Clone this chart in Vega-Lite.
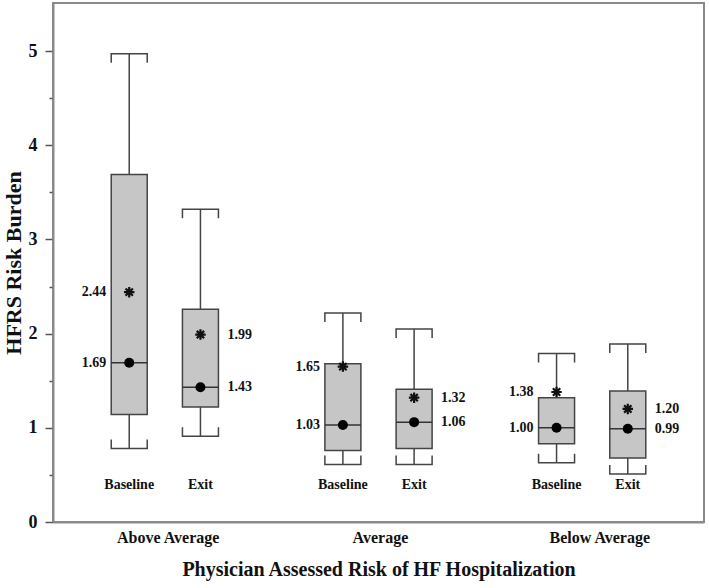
{
  "$schema": "https://vega.github.io/schema/vega-lite/v6.json",
  "width": 651,
  "height": 519,
  "autosize": {"type": "none"},
  "padding": {"left": 53, "top": 3, "right": 5, "bottom": 66},
  "background": "white",
  "config": {
    "font": "Liberation Serif",
    "view": {"stroke": "#8a8a8a", "strokeWidth": 2},
    "axis": {
      "domainColor": "#8a8a8a",
      "domainWidth": 2,
      "tickColor": "#555555",
      "tickWidth": 1.5,
      "labelFont": "Liberation Serif",
      "titleFont": "Liberation Serif",
      "labelFontWeight": "bold",
      "titleFontWeight": "bold",
      "labelColor": "#111111",
      "titleColor": "#111111",
      "grid": false
    }
  },
  "data": {
    "values": [
      {"group": "Above Average", "phase": "Baseline", "x": 1, "lo": 0.78, "q1": 1.14, "median": 1.69, "q3": 3.69, "hi": 4.97, "mean": 2.44},
      {"group": "Above Average", "phase": "Exit", "x": 2, "lo": 0.91, "q1": 1.22, "median": 1.43, "q3": 2.26, "hi": 3.32, "mean": 1.99},
      {"group": "Average", "phase": "Baseline", "x": 4, "lo": 0.61, "q1": 0.76, "median": 1.03, "q3": 1.68, "hi": 2.22, "mean": 1.65},
      {"group": "Average", "phase": "Exit", "x": 5, "lo": 0.61, "q1": 0.78, "median": 1.06, "q3": 1.41, "hi": 2.05, "mean": 1.32},
      {"group": "Below Average", "phase": "Baseline", "x": 7, "lo": 0.63, "q1": 0.83, "median": 1.00, "q3": 1.32, "hi": 1.79, "mean": 1.38},
      {"group": "Below Average", "phase": "Exit", "x": 8, "lo": 0.51, "q1": 0.68, "median": 0.99, "q3": 1.39, "hi": 1.89, "mean": 1.20}
    ]
  },
  "encoding": {
    "x": {
      "field": "x",
      "type": "quantitative",
      "scale": {"domain": [0, 9], "nice": false, "zero": false},
      "axis": {
        "values": [1.54, 4.52, 7.6],
        "labelExpr": "datum.value < 3 ? 'Above Average' : (datum.value < 6 ? 'Average' : 'Below Average')",
        "ticks": false,
        "labelPadding": 7,
        "labelFontSize": 16,
        "labelFlush": false,
        "title": "Physician Assessed Risk of HF Hospitalization",
        "titleFontSize": 20,
        "titlePadding": 14
      }
    }
  },
  "layer": [
    {
      "mark": {"type": "rule", "color": "#444444", "strokeWidth": 1.5},
      "encoding": {
        "y": {
          "field": "lo",
          "type": "quantitative",
          "scale": {"domain": [0, 5.51], "nice": false},
          "axis": {
            "values": [0, 0.5, 1, 1.5, 2, 2.5, 3, 3.5, 4, 4.5, 5],
            "format": ".0f",
            "labelExpr": "datum.value % 1 === 0 ? datum.label : ''",
            "tickSize": {"condition": {"test": "datum.value % 1 === 0", "value": 8}, "value": 4},
            "labelPadding": 8,
            "labelFontSize": 18,
            "title": "HFRS Risk Burden",
            "titleFontSize": 22,
            "titlePadding": 3
          }
        },
        "y2": {"field": "hi"}
      }
    },
    {
      "mark": {"type": "bar", "width": 36, "fill": "#c6c6c6", "stroke": "#444444", "strokeWidth": 1.5},
      "encoding": {
        "y": {"field": "q1", "type": "quantitative"},
        "y2": {"field": "q3"}
      }
    },
    {
      "mark": {"type": "point", "shape": "M-1,0L1,0", "size": 1296, "filled": false, "stroke": "#333333", "strokeWidth": 1.5, "opacity": 1},
      "encoding": {"y": {"field": "median", "type": "quantitative"}}
    },
    {
      "mark": {"type": "point", "shape": "M-1,0.5L-1,0L1,0L1,0.5", "size": 1296, "filled": false, "stroke": "#444444", "strokeWidth": 1.5, "opacity": 1},
      "encoding": {"y": {"field": "hi", "type": "quantitative"}}
    },
    {
      "mark": {"type": "point", "shape": "M-1,-0.5L-1,0L1,0L1,-0.5", "size": 1296, "filled": false, "stroke": "#444444", "strokeWidth": 1.5, "opacity": 1},
      "encoding": {"y": {"field": "lo", "type": "quantitative"}}
    },
    {
      "mark": {"type": "point", "shape": "circle", "size": 100, "filled": true, "fill": "#000000", "opacity": 1},
      "encoding": {"y": {"field": "median", "type": "quantitative"}}
    },
    {
      "mark": {"type": "point", "shape": "M-1,0L1,0M0,-1L0,1M-0.7,-0.7L0.7,0.7M-0.7,0.7L0.7,-0.7", "size": 110, "filled": false, "stroke": "#111111", "strokeWidth": 2.2, "opacity": 1},
      "encoding": {"y": {"field": "mean", "type": "quantitative"}}
    },
    {
      "transform": [{"filter": "datum.phase === 'Baseline'"}],
      "mark": {"type": "text", "align": "right", "baseline": "middle", "dx": -23, "fontSize": 14, "fontWeight": "bold", "color": "#111111"},
      "encoding": {"y": {"field": "mean", "type": "quantitative"}, "text": {"field": "mean", "type": "quantitative", "format": ".2f"}}
    },
    {
      "transform": [{"filter": "datum.phase === 'Baseline'"}],
      "mark": {"type": "text", "align": "right", "baseline": "middle", "dx": -23, "fontSize": 14, "fontWeight": "bold", "color": "#111111"},
      "encoding": {"y": {"field": "median", "type": "quantitative"}, "text": {"field": "median", "type": "quantitative", "format": ".2f"}}
    },
    {
      "transform": [{"filter": "datum.phase === 'Exit'"}],
      "mark": {"type": "text", "align": "left", "baseline": "middle", "dx": 27, "fontSize": 14, "fontWeight": "bold", "color": "#111111"},
      "encoding": {"y": {"field": "mean", "type": "quantitative"}, "text": {"field": "mean", "type": "quantitative", "format": ".2f"}}
    },
    {
      "transform": [{"filter": "datum.phase === 'Exit'"}],
      "mark": {"type": "text", "align": "left", "baseline": "middle", "dx": 27, "fontSize": 14, "fontWeight": "bold", "color": "#111111"},
      "encoding": {"y": {"field": "median", "type": "quantitative"}, "text": {"field": "median", "type": "quantitative", "format": ".2f"}}
    },
    {
      "mark": {"type": "text", "align": "center", "baseline": "middle", "fontSize": 14, "fontWeight": "bold", "color": "#111111"},
      "encoding": {"y": {"datum": 0.39}, "text": {"field": "phase", "type": "nominal"}}
    }
  ]
}
